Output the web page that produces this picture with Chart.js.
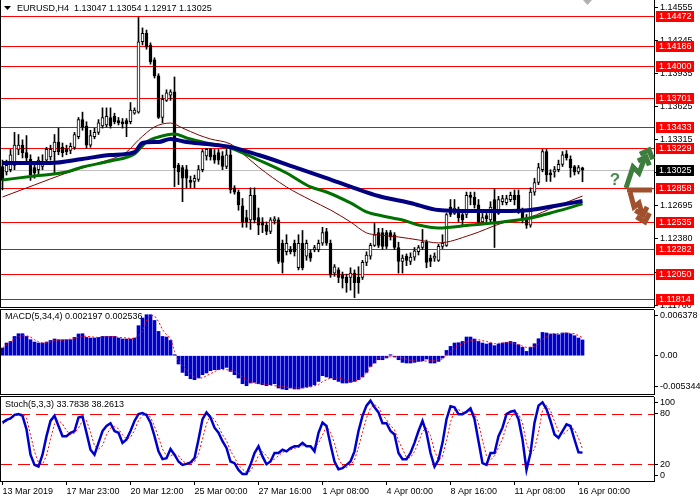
<!DOCTYPE html>
<html>
<head>
<meta charset="utf-8">
<script src="https://cdn.jsdelivr.net/npm/chart.js@4.4.1/dist/chart.umd.min.js"></script>
<style>
html, body { margin: 0; padding: 0; background: #fff; }
#wrap { position: relative; width: 700px; height: 500px; overflow: hidden; }
canvas { position: absolute; left: 0; }
</style>
</head>
<body>
<div id="wrap">
  <canvas id="price" width="700" height="309" style="top:0px"></canvas>
  <canvas id="macd" width="700" height="87" style="top:309px"></canvas>
  <canvas id="stoch" width="700" height="104" style="top:396px"></canvas>
</div>
<script>
// EURUSD H4 candles, 13 Mar - 16 Apr 2019
var opens = [
  1.1306,1.1301,1.1303,1.1307,1.1322,1.1326,1.1319,1.1313,1.1305,1.1303,
  1.1306,1.1312,1.1315,1.1320,1.1329,1.1324,1.1322,1.1321,1.1324,1.1334,
  1.1350,1.1344,1.1326,1.1334,1.1338,1.1344,1.1345,1.1352,1.1353,1.1349,
  1.1348,1.1349,1.1348,1.1356,1.1357,1.1423,1.1431,1.1420,1.1406,1.1391,
  1.1352,1.1368,1.1373,1.1376,1.1307,1.1305,1.1303,1.1293,1.1292,1.1294,
  1.1303,1.1316,1.1322,1.1317,1.1319,1.1316,1.1306,1.1317,1.1286,1.1282,
  1.1269,1.1258,1.1256,1.1279,1.1258,1.1254,1.1251,1.1245,1.1255,1.1256,
  1.1234,1.1226,1.1228,1.1234,1.1211,1.1234,1.1222,1.1225,1.1228,1.1228,
  1.1234,1.1245,1.1234,1.1206,1.1209,1.1204,1.1202,1.1202,1.1206,1.1202,
  1.1202,1.1216,1.1222,1.1232,1.1244,1.1244,1.1244,1.1244,1.1242,1.1230,
  1.1217,1.1222,1.1217,1.1221,1.1226,1.1230,1.1235,1.1220,1.1220,1.1218,
  1.1231,1.1232,1.1268,1.1262,1.1263,1.1261,1.1261,1.1279,1.1277,1.1270,
  1.1254,1.1260,1.1256,1.1275,1.1262,1.1273,1.1272,1.1275,1.1279,1.1279,
  1.1265,1.1256,1.1251,1.1282,1.1291,1.1303,1.1320,1.1300,1.1301,1.1303,
  1.1308,1.1318,1.1313,1.1306,1.1301,1.13047
];
var highs = [
  1.1312,1.1312,1.1322,1.1338,1.1336,1.1331,1.1335,1.1317,1.1309,1.1315,
  1.1317,1.1324,1.1326,1.1336,1.1342,1.1328,1.1326,1.1328,1.1338,1.1352,
  1.1357,1.1348,1.1340,1.1342,1.1350,1.1361,1.1361,1.1361,1.1356,1.1352,
  1.1351,1.1351,1.1366,1.1361,1.1446,1.1436,1.1434,1.1422,1.1408,1.1393,
  1.1373,1.1378,1.1378,1.1390,1.1309,1.1307,1.1307,1.1297,1.1298,1.1307,
  1.1322,1.1323,1.1323,1.1322,1.1322,1.1320,1.1322,1.1323,1.1288,1.1284,
  1.1276,1.1265,1.1286,1.1286,1.1267,1.1258,1.1254,1.1258,1.1259,1.1258,
  1.1237,1.1242,1.1231,1.1237,1.1242,1.1246,1.1237,1.1228,1.1232,1.1237,
  1.1249,1.1248,1.1237,1.1214,1.1211,1.1207,1.1205,1.1211,1.1209,1.1212,
  1.1218,1.1226,1.1234,1.1253,1.1248,1.1248,1.1246,1.1246,1.1244,1.1235,
  1.1223,1.1224,1.1225,1.1230,1.1232,1.1247,1.1237,1.1223,1.1225,1.1233,
  1.1242,1.1262,1.1275,1.1275,1.1268,1.1263,1.1282,1.1282,1.1282,1.1275,
  1.1262,1.1262,1.1273,1.1285,1.1278,1.1279,1.1279,1.1282,1.1284,1.1284,
  1.1267,1.1261,1.1286,1.1295,1.1309,1.1322,1.1322,1.1303,1.1306,1.1312,
  1.1320,1.1321,1.1316,1.1307,1.1307,1.13054
];
var lows = [
  1.1284,1.1298,1.1301,1.1303,1.1317,1.1314,1.1309,1.1293,1.1295,1.1298,
  1.1303,1.1309,1.1312,1.1300,1.1317,1.1315,1.1317,1.1318,1.1322,1.1332,
  1.1340,1.1323,1.1324,1.1332,1.1336,1.1342,1.1343,1.1342,1.1346,1.1345,
  1.1342,1.1334,1.1346,1.1355,1.1356,1.1420,1.1416,1.1402,1.1389,1.1351,
  1.1347,1.1367,1.1368,1.1287,1.1289,1.1273,1.1286,1.1286,1.1286,1.1292,
  1.1301,1.1312,1.1312,1.1309,1.1308,1.1303,1.1304,1.1281,1.1280,1.1265,
  1.1249,1.1249,1.1247,1.1253,1.1242,1.1244,1.1242,1.1243,1.1252,1.1215,
  1.1206,1.1223,1.1224,1.1222,1.1209,1.1209,1.1218,1.1217,1.1226,1.1226,
  1.1232,1.1232,1.1202,1.1203,1.1197,1.1192,1.1188,1.1190,1.1183,1.1187,
  1.1200,1.1213,1.1219,1.1231,1.1230,1.1228,1.1229,1.1237,1.1228,1.1206,
  1.1206,1.1213,1.1214,1.1218,1.1223,1.1228,1.1211,1.1212,1.1217,1.1217,
  1.1229,1.1231,1.1259,1.1261,1.1254,1.1251,1.1258,1.1270,1.1267,1.1252,
  1.1252,1.1254,1.1254,1.1230,1.1261,1.1270,1.1270,1.1273,1.1270,1.1262,
  1.1253,1.1248,1.1249,1.1279,1.1289,1.1301,1.1292,1.1292,1.1296,1.1301,
  1.1306,1.1312,1.1296,1.1298,1.1299,1.12917
];
var closes = [
  1.1293,1.1307,1.1317,1.1326,1.1326,1.1319,1.1314,1.1298,1.1300,1.1312,
  1.1310,1.1322,1.1322,1.1329,1.1320,1.1319,1.1320,1.1325,1.1336,1.1350,
  1.1343,1.1326,1.1335,1.1338,1.1347,1.1352,1.1353,1.1344,1.1348,1.1347,
  1.1346,1.1346,1.1359,1.1359,1.1423,1.1431,1.1418,1.1404,1.1391,1.1352,
  1.1369,1.1375,1.1376,1.1305,1.1301,1.1295,1.1295,1.1291,1.1295,1.1303,
  1.1320,1.1322,1.1315,1.1312,1.1312,1.1306,1.1317,1.1284,1.1282,1.1270,
  1.1254,1.1254,1.1279,1.1256,1.1251,1.1251,1.1245,1.1256,1.1257,1.1217,
  1.1216,1.1234,1.1226,1.1226,1.1234,1.1211,1.1234,1.1220,1.1230,1.1234,
  1.1244,1.1234,1.1204,1.1212,1.1202,1.1201,1.1197,1.1206,1.1197,1.1197,
  1.1216,1.1223,1.1232,1.1242,1.1232,1.1231,1.1231,1.1240,1.1230,1.1217,
  1.1220,1.1218,1.1221,1.1227,1.1230,1.1235,1.1216,1.1217,1.1222,1.1231,
  1.1234,1.1261,1.1261,1.1267,1.1258,1.1256,1.1279,1.1277,1.1270,1.1254,
  1.1258,1.1257,1.1268,1.1254,1.1275,1.1276,1.1276,1.1279,1.1275,1.1263,
  1.1256,1.1251,1.1282,1.1291,1.1305,1.1320,1.1298,1.1298,1.1303,1.1308,
  1.1317,1.1314,1.1305,1.1301,1.1305,1.13025
];

// moving averages (bar index -> price)
var slowMaIdx = [0,12,20,27,33,35,39,42,46,51,57,64,73,81,88,94,102,109,117,125,132,138,145];
var slowMaVal = [1.13093,1.13093,1.13131,1.13168,1.13196,1.13281,1.13290,1.13318,1.13290,1.13271,1.13243,1.13168,
                 1.13055,1.12952,1.12858,1.12783,1.12718,1.12652,1.12643,1.12643,1.12652,1.12690,1.12737];
var midMaIdx = [0,8,16,20,27,33,36,39,43,46,51,57,64,71,77,81,87,91,95,100,104,109,117,125,132,138,145];
var midMaVal = [1.12934,1.12971,1.13009,1.13055,1.13112,1.13177,1.13290,1.13337,1.13365,1.13328,1.13281,1.13234,1.13121,
                1.12999,1.12868,1.12821,1.12718,1.12634,1.12596,1.12558,1.12511,1.12483,1.12511,1.12540,1.12577,1.12634,1.12709];
var fastMaIdx = [0,8,16,24,31,34,38,42,45,49,52,57,59,64,71,77,82,87,91,94,99,104,109,117,125,132,138,145];
var fastMaVal = [1.12774,1.12887,1.12999,1.13093,1.13196,1.13309,1.13431,1.13468,1.13421,1.13356,1.13318,1.13271,1.13215,1.13055,
                 1.12868,1.12746,1.12652,1.12540,1.12437,1.12418,1.12399,1.12371,1.12343,1.12418,1.12530,1.12587,1.12680,1.12783];

var levels = [1.14472,1.14186,1.14000,1.13701,1.13433,1.13229,1.12858,1.12535,1.12282,1.12050,1.11814];
var lastPrice = 1.13025;
var priceTicks = [1.11760,1.12070,1.12380,1.12695,1.13005,1.13315,1.13625,1.13935,1.14245,1.14555];

var macdHist = [
  0.00107,0.00177,0.00199,0.00269,0.00307,0.00307,0.00269,0.00223,0.00191,0.00177,
  0.00177,0.00191,0.00213,0.00233,0.00223,0.00223,0.00223,0.00223,0.00255,0.00303,
  0.00307,0.00255,0.00247,0.00247,0.00255,0.00269,0.00269,0.00269,0.00269,0.00247,
  0.00233,0.00233,0.00233,0.00247,0.00419,0.00526,0.00572,0.00572,0.00492,0.00339,
  0.00269,0.00261,0.00213,0.00014,-0.00116,-0.00233,-0.00279,-0.00321,-0.00335,-0.00311,
  -0.00265,-0.00241,-0.00209,-0.00195,-0.00195,-0.00181,-0.00163,-0.00219,-0.00265,-0.00311,
  -0.00391,-0.00419,-0.00381,-0.00372,-0.00391,-0.00405,-0.00419,-0.00405,-0.00391,-0.00451,
  -0.00465,-0.00474,-0.00451,-0.00465,-0.00465,-0.00451,-0.00437,-0.00428,-0.00405,-0.00359,
  -0.00279,-0.00297,-0.00311,-0.00335,-0.00359,-0.00381,-0.00381,-0.00372,-0.00359,-0.00335,
  -0.00297,-0.00233,-0.00149,-0.00102,-0.00056,-0.00056,-0.00032,0.00014,-0.00018,-0.00056,
  -0.00093,-0.00102,-0.00102,-0.00093,-0.00080,-0.00070,-0.00046,-0.00102,-0.00102,-0.00080,
  -0.00032,0.00074,0.00130,0.00177,0.00181,0.00199,0.00261,0.00261,0.00233,0.00199,
  0.00177,0.00163,0.00177,0.00140,0.00163,0.00177,0.00186,0.00199,0.00186,0.00153,
  0.00116,0.00060,0.00116,0.00167,0.00237,0.00325,0.00317,0.00303,0.00303,0.00293,
  0.00317,0.00317,0.00303,0.00279,0.00247,0.002197
];
var macdSignal = [
  0.00107,0.00153,0.00195,0.00237,0.00265,0.00279,0.00279,0.00261,0.00223,0.00195,
  0.00177,0.00181,0.00195,0.00213,0.00216,0.00216,0.00223,0.00233,0.00237,0.00258,
  0.00269,0.00272,0.00265,0.00258,0.00255,0.00258,0.00261,0.00265,0.00265,0.00255,
  0.00251,0.00247,0.00241,0.00237,0.00279,0.00339,0.00492,0.00558,0.00558,0.00478,
  0.00363,0.00293,0.00247,0.00060,-0.00080,-0.00140,-0.00195,-0.00251,-0.00297,-0.00307,
  -0.00311,-0.00279,-0.00251,-0.00223,-0.00195,-0.00195,-0.00195,-0.00202,-0.00219,-0.00251,
  -0.00297,-0.00335,-0.00372,-0.00381,-0.00391,-0.00391,-0.00405,-0.00412,-0.00419,-0.00425,
  -0.00432,-0.00437,-0.00446,-0.00451,-0.00451,-0.00446,-0.00442,-0.00437,-0.00419,-0.00405,
  -0.00363,-0.00335,-0.00314,-0.00303,-0.00314,-0.00325,-0.00342,-0.00359,-0.00356,-0.00335,
  -0.00293,-0.00241,-0.00149,-0.00084,-0.00032,-0.00028,-0.00018,-0.00014,-0.00010,-0.00021,
  -0.00032,-0.00049,-0.00066,-0.00073,-0.00080,-0.00077,-0.00074,-0.00070,-0.00066,-0.00056,
  -0.00046,0.00014,0.00056,0.00107,0.00140,0.00177,0.00195,0.00213,0.00219,0.00223,
  0.00209,0.00199,0.00181,0.00167,0.00172,0.00177,0.00181,0.00186,0.00167,0.00153,
  0.00133,0.00116,0.00119,0.00130,0.00167,0.00223,0.00265,0.00303,0.00307,0.00307,
  0.00311,0.00317,0.00311,0.00307,0.00279,0.002536
];
var macdTickVal = [-0.004367, 0, 0.005541];
var macdTickText = ['-0.005344', '0.00', '0.006378'];

var stochMain = [
  69.5,72.8,74.4,78.8,79.6,77.6,61.5,31.3,19.2,17.2,
  31.3,53.4,71.5,77.6,65.5,53.4,53.4,57.4,59.5,75.6,
  76.8,57.4,37.3,31.3,45.4,59.5,65.5,68.7,59.5,57.4,
  45.4,49.4,59.5,71.5,79.6,80.8,78.4,69.5,53.4,35.3,
  26,27.2,38.1,31.3,23.2,19.2,20.4,22,27.2,49.4,
  73.6,81.6,75.6,63.5,57.4,47.4,39.3,23.2,21.2,13.2,
  8.3,8.3,19.2,33.3,41.3,29.3,20,23.2,33.3,33.3,
  37.3,35.3,39.3,41.3,41.3,45.4,41.3,41.3,35.3,57.4,
  69.5,65.5,43.4,23.2,14,15.2,19.2,23.2,35.3,59.5,
  77.6,89.7,95.7,87.7,81.6,68.7,68.7,59.5,55.4,33.3,
  26,26,33.3,45.4,59.5,71.5,57.4,33.3,17.2,25.2,
  45.4,73.6,88.9,87.7,79.6,79.6,82.4,86.4,73.6,47.4,
  21.2,19.2,33.3,33.3,53.4,63.5,79.6,82.4,83.6,73.6,
  49.4,13.2,33.3,69.5,89.7,93.7,85.6,71.5,55.4,51.4,
  59.5,67.5,65.5,49.4,34.1,33.78
];
var stochSignal = [
  68,71,74,77,79,80,75,55,35,22,
  20,30,50,68,72,68,60,55,57,63,
  72,72,58,42,38,42,55,63,65,62,
  55,50,52,60,72,78,80,76,65,52,
  38,30,30,32,30,24,21,21,23,32,
  50,68,78,73,65,55,48,36,28,19,
  14,10,12,20,30,35,30,24,26,30,
  34,36,37,39,40,42,42,42,40,45,
  55,65,58,45,27,18,16,19,25,40,
  58,75,87,91,88,79,73,66,61,48,
  38,28,28,35,46,59,63,54,36,25,
  29,48,70,84,85,82,81,83,80,69,
  48,30,25,30,40,50,66,75,82,80,
  69,45,32,38,58,84,90,84,71,59,
  55,59,64,61,51,38.26
];
var stochTickVal = [7.1, 20, 80, 92.9];
var stochTickText = ['0', '20', '80', '100'];

var timeIdx = [0,16,32,48,64,80,96,112,128,144];
var timeLabels = ['13 Mar 2019','17 Mar 23:00','20 Mar 12:00','25 Mar 00:00','27 Mar 16:00',
                  '1 Apr 08:00','4 Apr 00:00','8 Apr 16:00','11 Apr 08:00','16 Apr 00:00'];

var X_MIN = -0.625, X_MAX = 162.875;
var FONT = '"Liberation Sans", Arial, sans-serif';

Chart.defaults.font.family = FONT;
Chart.defaults.font.size = 9;
Chart.defaults.color = '#000';

function pts(ix, vals) {
  return ix.map(function (x, k) { return { x: x, y: vals[k] }; });
}
var seq = opens.map(function (v, i) { return i; });

function rightAxis(min, max, tickVals, fmt) {
  return {
    position: 'right', min: min, max: max,
    afterFit: function (s) { s.width = 46; s.paddingTop = 0; s.paddingBottom = 0; },
    afterBuildTicks: function (s) { s.ticks = tickVals.map(function (v) { return { value: v }; }); },
    ticks: { callback: fmt, padding: 2, autoSkip: false, font: { size: 9 }, color: '#000' },
    grid: { drawOnChartArea: false, tickLength: 4, color: '#000' },
    border: { color: '#000' }
  };
}
function hiddenX() {
  return { type: 'linear', display: false, min: X_MIN, max: X_MAX, offset: false };
}

function frame(top, bottom) {
  return {
    id: 'frame',
    afterDraw: function (chart) {
      var c = chart.ctx, a = chart.chartArea;
      c.save();
      c.strokeStyle = '#000'; c.lineWidth = 1;
      c.beginPath();
      c.moveTo(0.5, a.top); c.lineTo(0.5, a.bottom);
      if (top) { c.moveTo(0, a.top - 0.5); c.lineTo(a.right, a.top - 0.5); }
      if (bottom) { c.moveTo(0, a.bottom + 0.5); c.lineTo(a.right, a.bottom + 0.5); }
      c.stroke();
      c.restore();
    }
  };
}

function chevron(c, x, y, ang, len) {
  c.beginPath();
  c.moveTo(x - len * Math.cos(ang - 0.75), y - len * Math.sin(ang - 0.75));
  c.lineTo(x, y);
  c.lineTo(x - len * Math.cos(ang + 0.75), y - len * Math.sin(ang + 0.75));
  c.stroke();
}

var pricePanel = {
  id: 'pricePanel',
  beforeDatasetsDraw: function (chart) {
    var c = chart.ctx, a = chart.chartArea, ys = chart.scales.y;
    c.save();
    c.lineWidth = 1;
    var yp = Math.round(ys.getPixelForValue(lastPrice)) + 0.5;
    c.strokeStyle = '#c0c0c0';
    c.beginPath(); c.moveTo(a.left, yp); c.lineTo(a.right, yp); c.stroke();
    c.strokeStyle = '#ff0000';
    levels.forEach(function (v) {
      var y = Math.round(ys.getPixelForValue(v)) + 0.5;
      c.beginPath(); c.moveTo(a.left, y); c.lineTo(a.right, y); c.stroke();
    });
    c.restore();
  },
  afterDraw: function (chart) {
    var c = chart.ctx, a = chart.chartArea, ys = chart.scales.y;
    c.save();
    c.font = '9px ' + FONT;
    c.textBaseline = 'middle';
    c.textAlign = 'left';
    // price boxes on the axis
    levels.concat([lastPrice]).forEach(function (v, k) {
      var y = Math.round(ys.getPixelForValue(v));
      c.fillStyle = k === levels.length ? '#000' : '#ff0000';
      c.fillRect(a.right + 2, y - 5, 38, 11);
      c.fillStyle = '#fff';
      c.fillText(v.toFixed(5), a.right + 5, y + 0.5);
    });
    // title
    c.fillStyle = '#000';
    c.beginPath(); c.moveTo(4, 6); c.lineTo(11, 6); c.lineTo(7.5, 10); c.closePath(); c.fill();
    c.fillText('EURUSD,H4  1.13047 1.13054 1.12917 1.13025', 17, 8.5);
    // shift marker
    c.fillStyle = '#b0b0b0';
    c.beginPath(); c.moveTo(583, 0); c.lineTo(592, 0); c.lineTo(587.5, 5); c.closePath(); c.fill();
    // forecast arrows
    c.lineJoin = 'miter'; c.lineCap = 'butt';
    c.strokeStyle = '#3d7d3d'; c.lineWidth = 5;
    c.beginPath(); c.moveTo(626, 188); c.lineTo(633, 167); c.lineTo(639, 173); c.lineTo(646, 155); c.stroke();
    var ga = Math.atan2(155 - 173, 646 - 639);
    chevron(c, 649, 150, ga, 10);
    chevron(c, 646, 157, ga, 9);
    c.strokeStyle = '#a0502d';
    c.beginPath(); c.moveTo(627, 190); c.lineTo(652, 190); c.stroke();
    c.beginPath(); c.moveTo(630, 192); c.lineTo(634, 207); c.lineTo(639, 203); c.lineTo(643, 217); c.stroke();
    var ba = Math.atan2(217 - 203, 643 - 639);
    chevron(c, 645, 222, ba, 10);
    chevron(c, 643, 215, ba, 9);
    c.fillStyle = '#4a8a4a';
    c.font = 'bold 17px ' + FONT;
    c.textAlign = 'center';
    c.fillText('?', 615, 180);
    c.restore();
  }
};

new Chart(document.getElementById('price'), {
  type: 'bar',
  data: {
    datasets: [
      { type: 'line', data: pts(slowMaIdx, slowMaVal), borderColor: '#000080', borderWidth: 4,
        pointRadius: 0, cubicInterpolationMode: 'monotone', order: 1 },
      { type: 'line', data: pts(midMaIdx, midMaVal), borderColor: '#007000', borderWidth: 3,
        pointRadius: 0, cubicInterpolationMode: 'monotone', order: 2 },
      { type: 'line', data: pts(fastMaIdx, fastMaVal), borderColor: '#800000', borderWidth: 1,
        pointRadius: 0, cubicInterpolationMode: 'monotone', order: 3 },
      { data: seq.map(function (i) { return { x: i, y: [Math.min(opens[i], closes[i]), Math.max(opens[i], closes[i])] }; }),
        backgroundColor: seq.map(function (i) { return closes[i] >= opens[i] ? '#fff' : '#000'; }),
        borderColor: '#000', borderWidth: 1, borderSkipped: false, barThickness: 3, minBarLength: 1,
        grouped: false, order: 4 },
      { data: seq.map(function (i) { return { x: i, y: [lows[i], highs[i]] }; }),
        backgroundColor: '#000', barThickness: 1, grouped: false, order: 5 }
    ]
  },
  options: {
    responsive: false, animation: false, devicePixelRatio: 1,
    layout: { padding: { top: 0, bottom: 2, left: 0, right: 0 } },
    plugins: { legend: { display: false }, tooltip: { enabled: false } },
    scales: {
      x: hiddenX(),
      y: rightAxis(1.11742, 1.14622, priceTicks, function (v) { return v.toFixed(5); })
    }
  },
  plugins: [pricePanel, frame(false, true)]
});

var macdPanel = {
  id: 'macdPanel',
  beforeDatasetsDraw: function (chart) {
    var c = chart.ctx;
    c.save();
    c.font = '9px ' + FONT; c.fillStyle = '#000'; c.textBaseline = 'middle';
    c.fillText('MACD(5,34,4) 0.002197 0.002536', 5, 8);
    c.restore();
  }
};

new Chart(document.getElementById('macd'), {
  type: 'bar',
  data: {
    datasets: [
      { type: 'line', data: pts(seq, macdSignal), borderColor: '#ff0000', borderWidth: 1,
        borderDash: [2, 2], pointRadius: 0, order: 1 },
      { data: pts(seq, macdHist), backgroundColor: '#0000cd', barThickness: 3, grouped: false, order: 2 }
    ]
  },
  options: {
    responsive: false, animation: false, devicePixelRatio: 1,
    layout: { padding: { top: 1, bottom: 2, left: 0, right: 0 } },
    plugins: { legend: { display: false }, tooltip: { enabled: false } },
    scales: {
      x: hiddenX(),
      y: rightAxis(-0.005344, 0.006378, macdTickVal, function (v, k) { return macdTickText[k]; })
    }
  },
  plugins: [macdPanel, frame(true, true)]
});

var stochPanel = {
  id: 'stochPanel',
  beforeDatasetsDraw: function (chart) {
    var c = chart.ctx, a = chart.chartArea, ys = chart.scales.y;
    c.save();
    c.strokeStyle = '#ff0000'; c.lineWidth = 1; c.setLineDash([12, 6]);
    [20, 80].forEach(function (v) {
      var y = Math.round(ys.getPixelForValue(v)) + 0.5;
      c.beginPath(); c.moveTo(a.left, y); c.lineTo(a.right, y); c.stroke();
    });
    c.setLineDash([]);
    c.font = '9px ' + FONT; c.fillStyle = '#000'; c.textBaseline = 'middle';
    c.fillText('Stoch(5,3,3) 33.7838 38.2613', 5, 9);
    c.restore();
  }
};

new Chart(document.getElementById('stoch'), {
  type: 'line',
  data: {
    datasets: [
      { data: pts(seq, stochMain), borderColor: '#0000cd', borderWidth: 2.5, pointRadius: 0, order: 1 },
      { data: pts(seq, stochSignal), borderColor: '#ff0000', borderWidth: 1, borderDash: [2, 2], pointRadius: 0, order: 2 }
    ]
  },
  options: {
    responsive: false, animation: false, devicePixelRatio: 1,
    layout: { padding: { top: 1, bottom: 0, left: 0, right: 0 } },
    plugins: { legend: { display: false }, tooltip: { enabled: false } },
    scales: {
      x: {
        type: 'linear', min: X_MIN, max: X_MAX, offset: false,
        afterFit: function (s) { s.height = 19; s.paddingLeft = 0; s.paddingRight = 0; },
        afterBuildTicks: function (s) { s.ticks = timeIdx.map(function (v) { return { value: v }; }); },
        ticks: { callback: function (v, k) { return timeLabels[k]; }, align: 'start', maxRotation: 0,
                 autoSkip: false, padding: 1, font: { size: 9 }, color: '#000' },
        grid: { drawOnChartArea: false, tickLength: 4, color: '#000' },
        border: { color: '#000' }
      },
      y: rightAxis(0, 100, stochTickVal, function (v, k) { return stochTickText[k]; })
    }
  },
  plugins: [stochPanel, frame(true, false)]
});
</script>
</body>
</html>
